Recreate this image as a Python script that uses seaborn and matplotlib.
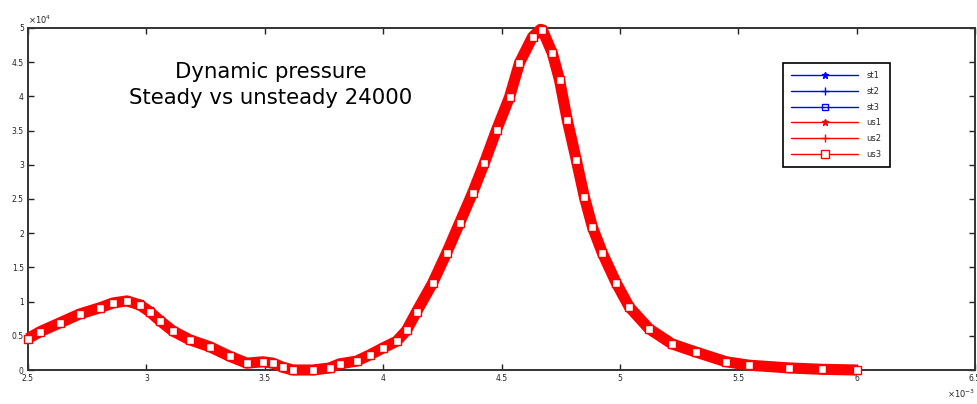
import numpy as np
import pandas as pd
import matplotlib
matplotlib.use("Agg")
import matplotlib.pyplot as plt
import seaborn as sns
from matplotlib.ticker import ScalarFormatter, MultipleLocator

# Sample times (ms) and dynamic pressure (Pa) for the steady and unsteady runs
time_ms = [2.500, 2.551, 2.635, 2.719, 2.804, 2.859, 2.918, 2.973, 3.015, 3.057,
           3.112, 3.184, 3.268, 3.352, 3.424, 3.492, 3.534, 3.576, 3.618, 3.703,
           3.774, 3.816, 3.888, 3.943, 3.998, 4.057, 4.099, 4.141, 4.209, 4.268,
           4.323, 4.378, 4.428, 4.479, 4.534, 4.576, 4.631, 4.665, 4.673, 4.715,
           4.745, 4.778, 4.816, 4.850, 4.884, 4.926, 4.985, 5.040, 5.124, 5.221,
           5.323, 5.449, 5.546, 5.715, 5.854, 6.000]

q_unsteady = [4600, 5600, 6900, 8200, 9100, 9800, 10100, 9500, 8500, 7200,
              5700, 4400, 3400, 2000, 1000, 1200, 1000, 400, 0, 0,
              300, 900, 1300, 2200, 3200, 4200, 5800, 8500, 12700, 17100,
              21500, 25900, 30300, 35100, 39900, 44900, 48700, 49800, 49700, 46300,
              42400, 36500, 30700, 25300, 20900, 17100, 12700, 9200, 6000, 3800,
              2600, 1200, 700, 300, 100, 0]

q_steady = [4600, 5600, 6900, 8300, 9200, 9900, 10200, 9800, 8800, 7500,
            5800, 4500, 3400, 2000, 1000, 1200, 1000, 400, 0, 0,
            300, 900, 1300, 2200, 3200, 4200, 5800, 8600, 12800, 17200,
            21600, 26000, 30400, 35200, 40000, 45000, 48800, 49800, 49700, 46400,
            42500, 36600, 30800, 25400, 21000, 17200, 12800, 9300, 6100, 3800,
            2600, 1200, 700, 300, 100, 0]

steady_labels = ["st1", "st2", "st3"]
unsteady_labels = ["us1", "us2", "us3"]
series_markers = ["*", "+", "s"]

title_lines = ["Dynamic pressure", "Steady vs unsteady 24000"]

df = pd.DataFrame({
    "t": np.array(time_ms) * 1e-3,
    "steady": q_steady,
    "unsteady": q_unsteady,
})

sns.set_style("ticks")
plt.rcParams["font.family"] = ["DejaVu Sans"]

fig = plt.figure(figsize=(9.78, 4.04), dpi=100)
ax = fig.add_axes([28 / 978, 1 - 370 / 404, (975 - 28) / 978, (370 - 28) / 404])

blue = "#0000ff"
red = "#ff0000"
msizes = {"*": 5, "+": 6, "s": 4.5}

# steady runs (drawn first, mostly hidden underneath)
for lab, mk in zip(steady_labels, series_markers):
    sns.lineplot(data=df, x="t", y="steady", ax=ax, color=blue, lw=1,
                 marker=mk, markersize=msizes[mk], mec=blue,
                 mfc=("none" if mk == "s" else blue), mew=1,
                 sort=False, estimator=None, label=lab, zorder=2)

# dense unsteady trace
sns.lineplot(data=df, x="t", y="unsteady", ax=ax, color=red, lw=8,
             sort=False, estimator=None, zorder=3, clip_on=False,
             solid_capstyle="butt", legend=False)

for lab, mk in zip(unsteady_labels, series_markers):
    sns.lineplot(data=df, x="t", y="unsteady", ax=ax, color=red, lw=1,
                 marker=mk, markersize=msizes[mk] + (1 if mk == "s" else 0),
                 mec=red, mfc=("white" if mk == "s" else red), mew=1,
                 sort=False, estimator=None, label=lab, zorder=4, clip_on=False)

ax.set_xlim(2.5e-3, 6.5e-3)
ax.set_ylim(0, 5e4)
ax.xaxis.set_major_locator(MultipleLocator(0.5e-3))
ax.yaxis.set_major_locator(MultipleLocator(0.5e4))


class CompactSciFormatter(ScalarFormatter):
    def _set_format(self):
        self.format = "%g"


for axis in (ax.xaxis, ax.yaxis):
    fmt = CompactSciFormatter(useMathText=True)
    fmt.set_powerlimits((0, 0))
    axis.set_major_formatter(fmt)

ax.set_xlabel("")
ax.set_ylabel("")
ax.tick_params(direction="in", length=4.5, width=1, labelsize=5.5, pad=3,
               top=True, right=True, colors="#222222")
ax.xaxis.get_offset_text().set_fontsize(6)
ax.yaxis.get_offset_text().set_fontsize(6)
for sp in ax.spines.values():
    sp.set_visible(True)
    sp.set_color("#333333")
    sp.set_linewidth(1.4)

ax.text(0.2566, 0.871, title_lines[0], transform=ax.transAxes,
        ha="center", va="center", fontsize=15.3, color="black")
ax.text(0.2566, 0.795, title_lines[1], transform=ax.transAxes,
        ha="center", va="center", fontsize=15.3, color="black")

leg = ax.legend(loc="upper left", bbox_to_anchor=((783 - 28) / 947, (370 - 63) / 342),
                fontsize=6, handlelength=8, handletextpad=1.0, labelspacing=0.8,
                borderpad=1.0, borderaxespad=0, fancybox=False, framealpha=1,
                edgecolor="black")
leg.get_frame().set_linewidth(1.2)

fig.savefig("out.png", dpi=100)
